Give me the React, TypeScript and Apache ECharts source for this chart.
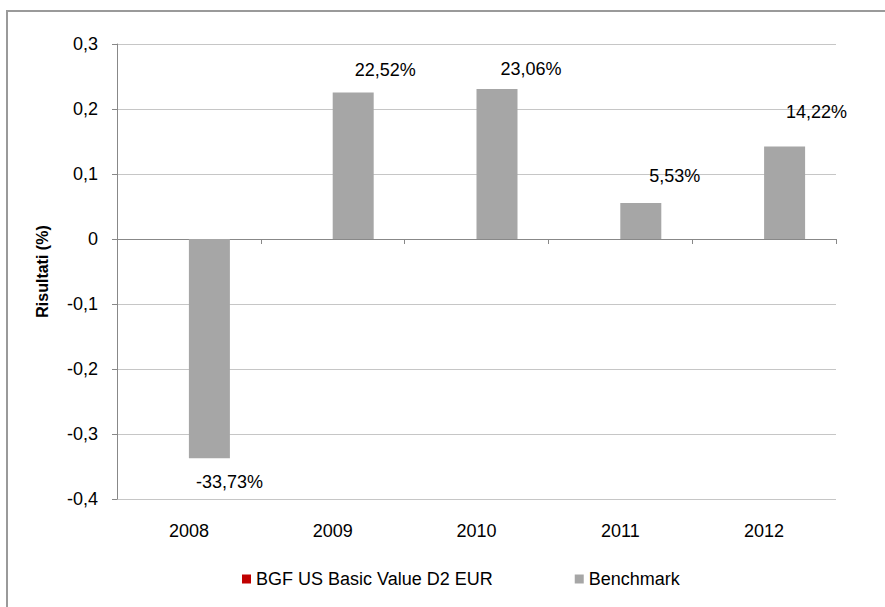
import React, { useEffect, useRef } from "react";
import * as echarts from "echarts";

const categories = ["2008", "2009", "2010", "2011", "2012"];
const fundValues: (number | null)[] = [null, null, null, null, null];
const benchmarkValues = [-0.3373, 0.2252, 0.2306, 0.0553, 0.1422];
const benchmarkLabels = ["-33,73%", "22,52%", "23,06%", "5,53%", "14,22%"];
const labelOffsets: [number, number][] = [
  [20, 10],
  [32, -9],
  [34, -6],
  [34, -13],
  [32, -21],
];

const FONT = "'Liberation Sans', Arial, sans-serif";

export default function App() {
  const ref = useRef<HTMLDivElement>(null);
  useEffect(() => {
    if (!ref.current) return;
    const chart = echarts.init(ref.current, null, { renderer: "svg" });
    chart.setOption({
      animation: false,
      textStyle: { fontFamily: FONT, color: "#000" },
      graphic: [
        {
          type: "rect",
          shape: { x: 7, y: 11, width: 950, height: 700 },
          style: { fill: "none", stroke: "#9a9a9a", lineWidth: 2 },
        },
      ],
      legend: {
        left: 237,
        top: 565,
        itemWidth: 9,
        itemHeight: 9,
        itemGap: 82,
        icon: "rect",
        textStyle: { fontFamily: FONT, fontSize: 18, color: "#000" },
        data: ["BGF US Basic Value D2 EUR", "Benchmark"],
      },
      grid: { left: 117, right: 49, top: 44, bottom: 108, containLabel: false },
      xAxis: [
        {
          type: "category",
          data: categories,
          axisLine: { onZero: true, lineStyle: { color: "#888", width: 1 } },
          axisTick: { show: true, alignWithLabel: false, length: 5, lineStyle: { color: "#888" } },
          axisLabel: { show: false },
        },
        {
          type: "category",
          data: categories,
          position: "bottom",
          axisLine: { show: false, onZero: false },
          axisTick: { show: false },
          axisLabel: { show: true, margin: 23, fontSize: 18, fontFamily: FONT, color: "#000" },
        },
      ],
      yAxis: {
        type: "value",
        min: -0.4,
        max: 0.3,
        interval: 0.1,
        name: "Risultati (%)",
        nameLocation: "middle",
        nameGap: 67,
        nameTextStyle: { fontFamily: FONT, fontSize: 16, fontWeight: "bold", color: "#000" },
        axisLine: { show: true, lineStyle: { color: "#888", width: 1 } },
        axisTick: { show: true, length: 5, lineStyle: { color: "#888" } },
        splitLine: { show: true, lineStyle: { color: "#c6c6c6", width: 1 } },
        axisLabel: {
          margin: 19,
          fontSize: 18,
          fontFamily: FONT,
          color: "#000",
          formatter: (v: number) => {
            const r = Math.round(v * 10) / 10;
            if (r === 0) return "0";
            return r.toFixed(1).replace(".", ",");
          },
        },
      },
      series: [
        {
          name: "BGF US Basic Value D2 EUR",
          type: "bar",
          xAxisIndex: 0,
          data: fundValues,
          barWidth: 41,
          barGap: "0%",
          itemStyle: { color: "#c00000" },
        },
        {
          name: "Benchmark",
          type: "bar",
          xAxisIndex: 0,
          barWidth: 41,
          barGap: "0%",
          itemStyle: { color: "#a6a6a6" },
          data: benchmarkValues.map((v, i) => ({
            value: v,
            label: {
              show: true,
              position: v < 0 ? "bottom" : "top",
              offset: labelOffsets[i],
              formatter: benchmarkLabels[i],
              fontSize: 18,
              fontFamily: FONT,
              color: "#000",
            },
          })),
        },
      ],
    });
    return () => chart.dispose();
  }, []);
  return (
    <div
      ref={ref}
      style={{ position: "fixed", left: 0, top: 0, width: 885, height: 607, background: "#fff" }}
    />
  );
}
